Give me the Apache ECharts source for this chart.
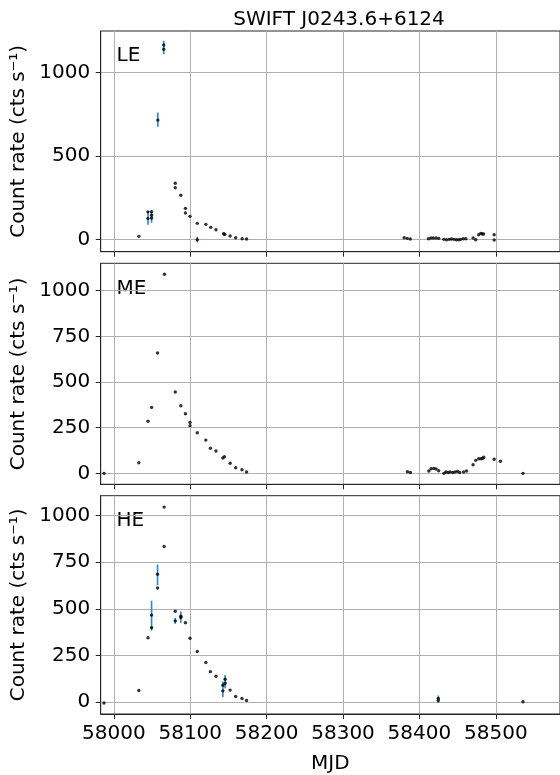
<!DOCTYPE html>
<html>
<head>
<meta charset="utf-8">
<script src="https://cdn.jsdelivr.net/npm/echarts@6/dist/echarts.min.js"></script>
<style>
html,body{margin:0;padding:0;background:#fff;}
#c{width:560px;height:775px;}
</style>
</head>
<body>
<div id="c"></div>
<script>
// ---- Data ----
const title = 'SWIFT J0243.6+6124';
const panelNames = ['LE', 'ME', 'HE'];
const xTicks = [58000, 58100, 58200, 58300, 58400, 58500];
const leTicks = [0, 500, 1000];
const meTicks = [0, 250, 500, 750, 1000];
const heTicks = [0, 250, 500, 750, 1000];

const leMjd = [58032.7, 58044.7, 58044.7, 58049.4, 58049.4, 58049.4, 58057.6, 58065.3, 58065.3, 58080.4, 58080.4, 58087.7, 58093.7, 58093.7, 58099.7, 58109.2, 58109.2, 58120.4, 58126.8, 58133.7, 58143.6, 58145.3, 58152.2, 58159.5, 58168, 58173.7, 58380, 58384, 58388, 58411.8, 58415.2, 58418.2, 58421.7, 58425.2, 58432, 58435.5, 58438.9, 58442, 58445.3, 58448.4, 58451.4, 58454, 58457.4, 58460.8, 58470.3, 58473.7, 58477.6, 58480.3, 58482.3, 58484, 58497.8, 58497.8];
const leRate = [18, 165, 125, 165, 145, 128, 715, 1165, 1140, 336, 309, 264, 186, 158, 138, 96, -2, 90, 72, 58, 34, 30, 20, 10, 4, 2, 10, 6, 2, 4, 8, 8, 8, 6, 0, -2, 0, 2, 0, -2, -2, 0, 4, 4, 8, -2, 28, 36, 32, 32, 28, -4];
const leErrMjd = [58044.7, 58049.4, 58057.6, 58065.3, 58109.2, 58144.5];
const leErrLo = [88, 100, 675, 1110, -18, 22];
const leErrHi = [170, 176, 760, 1190, 15, 42];

const meMjd = [57987.1, 58032.7, 58044.7, 58049.4, 58057.2, 58066.2, 58080.4, 58087.7, 58093.7, 58099.7, 58099.7, 58109.2, 58120.4, 58126.4, 58133.7, 58142.7, 58144.8, 58152.2, 58159.5, 58167.7, 58173.7, 58384.3, 58388.2, 58412.3, 58415.2, 58418.7, 58421.7, 58425.2, 58432, 58434.6, 58437.6, 58440.2, 58443.7, 58446.7, 58449.8, 58452.7, 58457.9, 58461.7, 58470.2, 58473.7, 58477.6, 58480.7, 58482.8, 58484.1, 58497.8, 58506, 58535.6];
const meRate = [0, 58, 285, 361, 659, 1090, 445, 370, 326, 279, 261, 222, 182, 137, 122, 84, 91, 55, 31, 20, 7, 9, 5, 13, 25, 27, 24, 14, 0, 7, 5, 7, 5, 7, 11, 5, 7, 13, 47, 71, 80, 80, 82, 88, 77, 66, 0];

const heMjd = [57987.1, 58032.7, 58044.7, 58049.4, 58049.4, 58057.2, 58057.2, 58065.8, 58065.8, 58080.4, 58080.4, 58087.7, 58087.7, 58093.7, 58099.7, 58109.2, 58120.4, 58126.4, 58133.7, 58142.7, 58142.7, 58145.7, 58145.7, 58152.2, 58159.5, 58167.7, 58173.7, 58424.7, 58424.7, 58535.6];
const heRate = [-5, 62, 345, 466, 398, 685, 611, 1045, 834, 487, 435, 460, 453, 425, 342, 271, 212, 163, 138, 90, 60, 122, 101, 64, 30, 19, 9, 20, 9, 2];
const heErrMjd = [58049.4, 58057.2, 58080.4, 58087.7, 58142.7, 58145.7, 58424.7];
const heErrLo = [384, 627, 420, 425, 27, 74, -5];
const heErrHi = [543, 737, 450, 485, 110, 145, 35];

// ---- Layout ----
const FONT = 'DejaVu Sans';
const FS = 20;
const grids = [
  {left: 100.7, top: 31, width: 466.3, height: 220.7},
  {left: 100.7, top: 263.3, width: 466.3, height: 221},
  {left: 100.7, top: 495.7, width: 466.3, height: 220.3}
];
const yRanges = [[-74, 1249], [-60, 1150], [-64, 1106]];
const yTicks = [leTicks, meTicks, heTicks];
const xRange = [57982.8, 58584];

const zip = (a, b) => a.map((v, i) => [v, b[i]]);
const zip3 = (a, b, c) => a.map((v, i) => [v, b[i], c[i]]);

const chart = echarts.init(document.getElementById('c'), null, {renderer: 'canvas'});

const xAxes = grids.map((g, i) => ({
  type: 'value', gridIndex: i, min: xRange[0], max: xRange[1], position: 'bottom',
  axisLine: {show: true, onZero: false, lineStyle: {color: '#262626', width: 1}},
  axisTick: {show: true, inside: false, length: 5, lineStyle: {color: '#262626', width: 1}, customValues: xTicks},
  axisLabel: {show: i === 2, customValues: xTicks, fontFamily: FONT, fontSize: FS, color: '#000', margin: 10, formatter: v => String(v)},
  splitLine: {show: true, lineStyle: {color: '#b0b0b0', width: 1}},
  name: i === 2 ? 'MJD' : '', nameLocation: 'middle', nameGap: 40,
  nameTextStyle: {fontFamily: FONT, fontSize: FS, color: '#000'}
}));

const yAxes = grids.map((g, i) => ({
  type: 'value', gridIndex: i, min: yRanges[i][0], max: yRanges[i][1], position: 'left',
  axisLine: {show: true, onZero: false, lineStyle: {color: '#262626', width: 1}},
  axisTick: {show: true, inside: false, length: 5, lineStyle: {color: '#262626', width: 1}, customValues: yTicks[i]},
  axisLabel: {customValues: yTicks[i], fontFamily: FONT, fontSize: FS, color: '#000', margin: 10.5, formatter: v => String(v)},
  splitLine: {show: true, lineStyle: {color: '#b0b0b0', width: 1}},
  name: 'Count rate (cts s\u207B\u00B9)', nameLocation: 'middle', nameGap: 66, nameRotate: 90,
  nameTextStyle: {fontFamily: FONT, fontSize: FS, color: '#000'}
}));

function errSeries(idx, data) {
  return {
    type: 'custom', xAxisIndex: idx, yAxisIndex: idx, z: 2, silent: true,
    encode: {x: 0, y: [1, 2]},
    data: data,
    clip: true,
    renderItem: function (params, api) {
      const p1 = api.coord([api.value(0), api.value(1)]);
      const p2 = api.coord([api.value(0), api.value(2)]);
      return {type: 'line', shape: {x1: p1[0], y1: p1[1], x2: p2[0], y2: p2[1]},
        style: {stroke: '#2b86c9', lineWidth: 1.6}};
    }
  };
}
function dotSeries(idx, data) {
  return {
    type: 'scatter', xAxisIndex: idx, yAxisIndex: idx, z: 3, silent: true,
    symbol: 'circle', symbolSize: 3.4,
    itemStyle: {color: '#000'},
    data: data
  };
}

const option = {
  backgroundColor: '#fff',
  animation: false,
  title: {text: title, left: 334, top: 5, textAlign: 'center',
    textStyle: {fontFamily: FONT, fontSize: FS, fontWeight: 'normal', color: '#000'}},
  grid: grids.map(g => Object.assign({show: true, borderColor: '#262626', borderWidth: 1, backgroundColor: 'transparent', containLabel: false}, g)),
  graphic: panelNames.map((n, i) => ({
    type: 'text', left: 116.5, top: grids[i].top + 15,
    style: {text: n, fontFamily: FONT, fontSize: FS, fill: '#000'}
  })),
  xAxis: xAxes,
  yAxis: yAxes,
  series: [
    errSeries(0, zip3(leErrMjd, leErrLo, leErrHi)),
    dotSeries(0, zip(leMjd, leRate)),
    dotSeries(1, zip(meMjd, meRate)),
    errSeries(2, zip3(heErrMjd, heErrLo, heErrHi)),
    dotSeries(2, zip(heMjd, heRate))
  ]
};
chart.setOption(option);
</script>
</body>
</html>
